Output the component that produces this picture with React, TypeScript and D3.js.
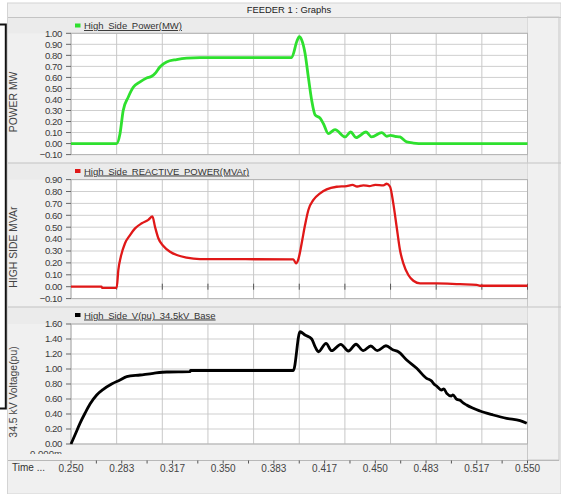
import React from "react";
import * as d3 from "d3";

// [time (s), value]
const powerMW: [number, number][] = [
  [0.25, 0.0], [0.28, 0.0], [0.2822, 0.09], [0.2843, 0.3], [0.2876, 0.42], [0.2909, 0.51],
  [0.2954, 0.56], [0.2997, 0.595], [0.303, 0.61], [0.3052, 0.635], [0.3084, 0.695], [0.3128, 0.74],
  [0.3194, 0.762], [0.326, 0.775], [0.3348, 0.78], [0.395, 0.78], [0.3985, 0.93], [0.4, 0.97],
  [0.4016, 0.94], [0.4038, 0.82], [0.406, 0.6], [0.4082, 0.39], [0.4104, 0.26], [0.4137, 0.23],
  [0.4159, 0.18], [0.4191, 0.09], [0.4235, 0.127], [0.4301, 0.06], [0.4338, 0.105], [0.4373, 0.054],
  [0.4439, 0.105], [0.4476, 0.06], [0.4542, 0.1], [0.4575, 0.066], [0.46, 0.075], [0.4629, 0.066],
  [0.4662, 0.06], [0.4706, 0.015], [0.475, 0.005], [0.482, 0.0], [0.55, 0.0],
];

const reactiveMVAr: [number, number][] = [
  [0.25, 0.0], [0.27, 0.0], [0.2705, -0.01], [0.28, -0.01], [0.2811, 0.14], [0.2827, 0.25],
  [0.2855, 0.365], [0.2888, 0.434], [0.2921, 0.49], [0.2965, 0.533], [0.3008, 0.562], [0.3035, 0.59],
  [0.3052, 0.504], [0.3074, 0.407], [0.3107, 0.342], [0.3151, 0.294], [0.3195, 0.266], [0.326, 0.244],
  [0.3348, 0.232], [0.3961, 0.23], [0.3979, 0.196], [0.3994, 0.23], [0.4016, 0.365], [0.4038, 0.518],
  [0.406, 0.645], [0.4093, 0.729], [0.4137, 0.785], [0.418, 0.818], [0.4246, 0.84], [0.4312, 0.846],
  [0.435, 0.855], [0.438, 0.842], [0.4421, 0.852], [0.446, 0.845], [0.45, 0.856], [0.4553, 0.852],
  [0.4575, 0.865], [0.4597, 0.84], [0.4618, 0.7], [0.464, 0.504], [0.4662, 0.308], [0.4684, 0.196],
  [0.4717, 0.098], [0.475, 0.05], [0.4794, 0.028], [0.4903, 0.028], [0.5056, 0.021], [0.5166, 0.016],
  [0.5188, 0.008], [0.55, 0.008],
];

const voltagePU: [number, number][] = [
  [0.25, 0.0], [0.2526, 0.12], [0.2559, 0.276], [0.2592, 0.41], [0.2625, 0.533], [0.2669, 0.653],
  [0.2712, 0.729], [0.2767, 0.8], [0.2822, 0.853], [0.2866, 0.898], [0.2954, 0.92], [0.3041, 0.943],
  [0.3129, 0.96], [0.3282, 0.965], [0.3285, 0.98], [0.3961, 0.98], [0.4005, 1.497], [0.4038, 1.453],
  [0.4082, 1.4], [0.4104, 1.298], [0.4126, 1.23], [0.4176, 1.342], [0.4213, 1.244], [0.4273, 1.329],
  [0.4323, 1.24], [0.4373, 1.33], [0.4421, 1.244], [0.447, 1.307], [0.4513, 1.244], [0.457, 1.31],
  [0.4618, 1.253], [0.4651, 1.23], [0.4706, 1.12], [0.4772, 1.009], [0.4837, 0.876], [0.487, 0.84],
  [0.4885, 0.8], [0.4903, 0.773], [0.4935, 0.72], [0.495, 0.735], [0.4969, 0.676], [0.5, 0.64],
  [0.501, 0.655], [0.5035, 0.596], [0.506, 0.58], [0.507, 0.56], [0.51, 0.52], [0.5188, 0.44],
  [0.5275, 0.387], [0.5363, 0.342], [0.5451, 0.311], [0.5495, 0.276],
];

const timeLabels = ["0.250", "0.283", "0.317", "0.350", "0.383", "0.417", "0.450", "0.483", "0.517", "0.550"];
const powerTicks = [-0.1, 0, 0.1, 0.2, 0.3, 0.4, 0.5, 0.6, 0.7, 0.8, 0.9, 1.0];
const reactiveTicks = [-0.1, 0, 0.1, 0.2, 0.3, 0.4, 0.5, 0.6, 0.7, 0.8, 0.9];
const voltageTicks = [0, 0.2, 0.4, 0.6, 0.8, 1.0, 1.2, 1.4, 1.6];

const W = 561;
const H = 494;
const plotL = 71;
const plotR = 527.5;
const FONT = "'Liberation Sans', Arial, sans-serif";

const x = d3.scaleLinear().domain([0.25, 0.55]).range([plotL, plotR]);
const gridX = d3.range(0, 11).map((i) => 0.25 + i * 0.03);

const panels = [
  { legend: "High Side Power(MW)", color: "#2ee02e", width: 2.8, title: "POWER MW", data: powerMW, ticks: powerTicks,
    top: 17, plotTop: 33.3, plotBot: 154.6, zeroTicks: false },
  { legend: "High Side REACTIVE POWER(MVAr)", color: "#e01818", width: 2.3, title: "HIGH SIDE MVAr", data: reactiveMVAr, ticks: reactiveTicks,
    top: 162.5, plotTop: 179.6, plotBot: 298.6, zeroTicks: true },
  { legend: "High Side V(pu) 34.5kV Base", color: "#000000", width: 2.8, title: "34.5 kV Voltage(pu)", data: voltagePU, ticks: voltageTicks,
    top: 306.5, plotTop: 324, plotBot: 444, zeroTicks: false },
];

const fmt = d3.format(".2f");

function Panel({ p }: { p: (typeof panels)[number] }) {
  const lo = p.ticks[0];
  const hi = p.ticks[p.ticks.length - 1];
  const y = d3.scaleLinear().domain([lo, hi]).range([p.plotBot, p.plotTop]);
  const line = d3.line<[number, number]>().x((d) => x(d[0])).y((d) => y(d[1])).curve(d3.curveMonotoneX);
  const midY = (p.plotTop + p.plotBot) / 2 + 8;
  return (
    <g>
      {/* header strip */}
      <rect x={8} y={p.top} width={plotR - 8} height={p.plotTop - p.top} fill="#ebebeb" />
      <line x1={8} x2={W} y1={p.top + 0.5} y2={p.top + 0.5} stroke="#c4c4c4" />
      {/* plot area */}
      <rect x={plotL} y={p.plotTop} width={plotR - plotL} height={p.plotBot - p.plotTop} fill="#ffffff" />
      {p.ticks.map((t) => (
        <line key={"h" + t} x1={plotL} x2={plotR} y1={y(t)} y2={y(t)} stroke="#cfcfcf" strokeWidth={1} />
      ))}
      {gridX.map((t) => (
        <line key={"v" + t} x1={x(t)} x2={x(t)} y1={p.plotTop} y2={p.plotBot} stroke="#c8c8c8" strokeWidth={1} />
      ))}
      <rect x={plotL} y={p.plotTop} width={plotR - plotL} height={p.plotBot - p.plotTop} fill="none" stroke="#b4b4b4" />
      {p.zeroTicks &&
        gridX.slice(1).map((t) => (
          <line key={"z" + t} x1={x(t)} x2={x(t)} y1={y(0) - 3} y2={y(0) + 3} stroke="#555" strokeWidth={1} />
        ))}
      {/* y axis */}
      {p.ticks.map((t) => (
        <g key={"t" + t}>
          <line x1={plotL - 5} x2={plotL} y1={y(t)} y2={y(t)} stroke="#666" />
          <text x={62} y={y(t)} dy="0.35em" textAnchor="end" fontSize={9.6} letterSpacing={-0.4} fill="#3a3a3a" fontFamily={FONT}>
            {fmt(t)}
          </text>
        </g>
      ))}
      <text transform={`translate(17,${midY}) rotate(-90)`} textAnchor="middle" fontSize={10.4} fill="#444" fontFamily={FONT}>
        {p.title}
      </text>
      {/* legend */}
      <rect x={75} y={p.top + 6.5} width={5.5} height={4} fill={p.color} />
      <text x={84} y={p.top + 12} fontSize={9.5} wordSpacing={2} fill="#333" fontFamily={FONT} textDecoration="underline">
        {p.legend}
      </text>
      {/* series */}
      <path d={line(p.data) ?? ""} fill="none" stroke={p.color} strokeWidth={p.width} strokeLinejoin="round" />
    </g>
  );
}

export default function App() {
  const tx = d3.scaleLinear().domain([0, timeLabels.length - 1]).range([plotL, plotR]);
  const minor = d3.range(0, (timeLabels.length - 1) * 2 + 1).map((i) => i / 2);
  return (
    <svg width={W} height={H} style={{ position: "absolute", left: 0, top: 0 }} xmlns="http://www.w3.org/2000/svg">
      <defs>
        <clipPath id="belowPlot">
          <rect x={0} y={449} width={W} height={5} />
        </clipPath>
      </defs>
      <rect x={0} y={0} width={W} height={H} fill="#ffffff" />
      <rect x={7.5} y={3} width={W - 7.5} height={H - 3} fill="#f0f0f0" stroke="#d4d4d4" />
      <text x={289} y={13} textAnchor="middle" fontSize={9.4} fill="#222" fontFamily={FONT}>
        FEEDER 1 : Graphs
      </text>
      {/* right column */}
      <rect x={plotR} y={17} width={559 - plotR} height={443} fill="#f0f0f0" stroke="#c8c8c8" />
      {panels.map((p) => (
        <Panel key={p.legend} p={p} />
      ))}
      <text x={62} y={457} textAnchor="end" fontSize={9.6} fill="#444" fontFamily={FONT} clipPath="url(#belowPlot)">
        -0.000m
      </text>
      {/* time axis */}
      <line x1={8} x2={559} y1={460.5} y2={460.5} stroke="#b8b8b8" />
      {minor.map((m) => (
        <line key={m} x1={tx(m)} x2={tx(m)} y1={460.5} y2={463.5} stroke="#555" />
      ))}
      <text x={12} y={471} fontSize={10} fill="#333" fontFamily={FONT}>
        Time ...
      </text>
      {timeLabels.map((l, i) => (
        <text key={l} x={tx(i)} y={472} textAnchor="middle" fontSize={10} fill="#444" fontFamily={FONT}>
          {l}
        </text>
      ))}
      {/* stray bracket at the left edge */}
      <path d="M0,24.5 H5.8 V408.5 H0" fill="none" stroke="#111" strokeWidth={2} />
    </svg>
  );
}
